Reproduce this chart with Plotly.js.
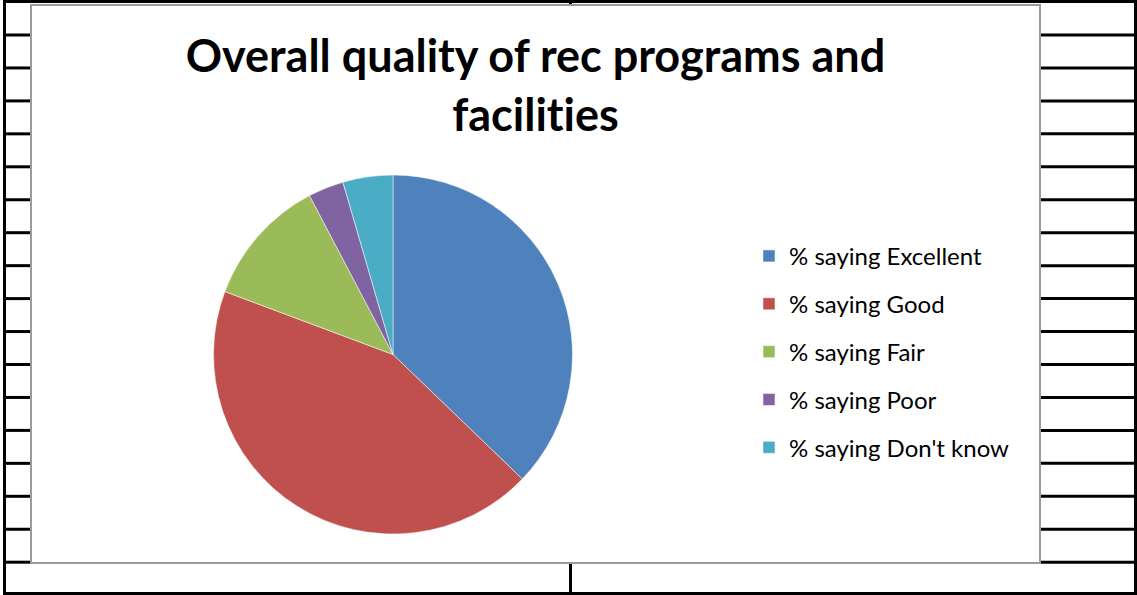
<!DOCTYPE html>
<html>
<head>
<meta charset="utf-8">
<script src="https://cdn.plot.ly/plotly-3.0.1.min.js"></script>
<style>
html,body{margin:0;padding:0;background:#fff;}
#chart{width:1137px;height:595px;}
#chart text{font-variant-ligatures:none;font-feature-settings:"liga" 0;}
</style>
</head>
<body>
<div id="chart"></div>
<script>
// Data
var categories = ['% saying Excellent', '% saying Good', '% saying Fair', '% saying Poor', "% saying Don't know"];
var values = [37.2, 43.5, 11.6, 3.2, 4.5];
var colors = ['#4F81BD', '#C0504D', '#9BBB59', '#8064A2', '#4BACC6'];
var titleLines = ['Overall quality of rec programs and', 'facilities'];

var W = 1137, H = 595;
function px(x){ return x / W; }
function py(y){ return 1 - y / H; }

var shapes = [];
function line(x0, y0, x1, y1, w, c){
  shapes.push({type:'line', xref:'paper', yref:'paper', x0:px(x0), y0:py(y0), x1:px(x1), y1:py(y1),
    line:{color:c || '#000', width:w}, layer:'below'});
}
// spreadsheet cell grid
line(3, 1.5, 1137, 1.5, 3);
line(4.5, 0, 4.5, 595, 3);
line(1135.5, 0, 1135.5, 595, 3);
line(3, 593.5, 1137, 593.5, 3);
line(570.5, 0, 570.5, 6, 3);
line(570.5, 563, 570.5, 595, 3);
for (var k = 0; k <= 16; k++) {
  var yy = 35 + k * 32.95;
  line(4, yy, 31, yy, 3);
  line(1040, yy, 1136, yy, 3);
}
// chart area
shapes.push({type:'rect', xref:'paper', yref:'paper', x0:px(31), y0:py(563), x1:px(1040), y1:py(5),
  fillcolor:'#ffffff', line:{color:'#9a9a9a', width:2}, layer:'below'});

var data = [{
  type: 'pie',
  labels: categories.map(function(c){ return '<span style="font-size:24px;baseline-shift:4px">' + c + '</span>'; }),
  values: values,
  marker: {colors: colors, line: {color: '#ffffff', width: 0.5}},
  sort: false,
  direction: 'clockwise',
  rotation: 0,
  textinfo: 'none',
  hoverinfo: 'label+percent',
  domain: {x: [px(213.5), px(572.5)], y: [py(534), py(175)]}
}];

var layout = {
  width: W, height: H,
  margin: {l:0, r:0, t:0, b:0},
  paper_bgcolor: '#ffffff',
  plot_bgcolor: '#ffffff',
  font: {family: 'Lato, Carlito, Calibri, sans-serif', color: '#000'},
  title: {
    text: titleLines.join('<br>'),
    font: {family: 'Lato, Carlito, Calibri, sans-serif', size: 45, color: '#000', weight: 'bold'},
    x: px(535.5), xanchor: 'center', xref: 'paper',
    y: py(72), yanchor: 'top', yref: 'container'
  },
  showlegend: true,
  legend: {
    x: px(749), xanchor: 'left',
    y: py(227), yanchor: 'top',
    font: {family: 'Lato, Carlito, Calibri, sans-serif', size: 34.5, color: '#000'},
    bgcolor: 'rgba(0,0,0,0)',
    borderwidth: 0
  },
  shapes: shapes
};

Plotly.newPlot('chart', data, layout, {displayModeBar: false, staticPlot: true});
</script>
</body>
</html>
